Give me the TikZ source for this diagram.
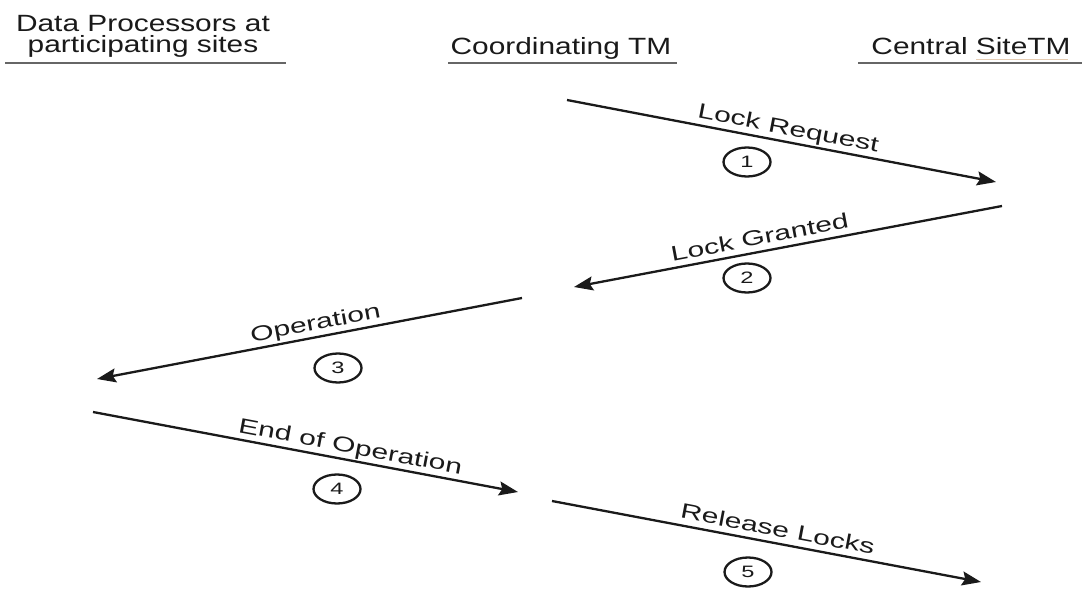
\documentclass[tikz,border=0pt]{standalone}
\usepackage{fontspec}
\setmainfont{Liberation Sans}
\usetikzlibrary{arrows.meta,shapes.geometric}

\definecolor{ink}{HTML}{1A1A1A}
\definecolor{rule}{HTML}{666666}

\tikzset{
  header/.style={inner sep=0pt, anchor=base, text=ink,
    font=\fontsize{23.5}{21}\selectfont},
  headrule/.style={draw=rule, line width=1.8pt},
  msg/.style={draw=ink, line width=2.3pt,
    -{Stealth[length=19pt,width=14pt,inset=3pt]}},
  msglabel/.style={sloped, anchor=base, inner sep=0pt, yshift=7pt, text=ink,
    font=\fontsize{21}{24}\selectfont},
  stepno/.style={ellipse, draw=ink, line width=2.3pt, inner sep=0pt,
    minimum width=47pt, minimum height=29pt, text=ink,
    font=\fontsize{16.5}{18}\selectfont},
}
\newcommand{\wide}[1]{\scalebox{1.27}[1]{#1}}
\newcommand{\widelab}[1]{\scalebox{1.43}[1]{#1}}

\begin{document}
\begin{tikzpicture}[x=1pt,y=1pt]
\useasboundingbox (0,0) rectangle (1082,-591);
\fill[white] (0,0) rectangle (1082,-591);

% column headings
\node[header] (hdp1) at (143,-32) {\wide{Data Processors at}};
\node[header] (hdp2) at (143,-53) {\wide{participating sites}};
\node[header] (hco)  at (561,-55) {\wide{Coordinating TM}};
\node[header] (hce)  at (971,-55) {\wide{Central SiteTM}};

\coordinate (u1a) at (5,-63);   \coordinate (u1b) at (286,-63);
\coordinate (u2a) at (448,-63); \coordinate (u2b) at (677,-63);
\coordinate (u3a) at (858,-63); \coordinate (u3b) at (1082,-63);
\draw[headrule] (u1a) -- (u1b);
\draw[headrule] (u2a) -- (u2b);
\draw[headrule] (u3a) -- (u3b);
\coordinate (sq1) at (976,-59); \coordinate (sq2) at (1068,-59);
\draw[draw=brown!40, line width=0.8pt] (sq1) -- (sq2);

% message end points
\coordinate (a1s) at (567,-100);  \coordinate (a1e) at (996,-182);
\coordinate (a2s) at (1002,-206); \coordinate (a2e) at (574,-287);
\coordinate (a3s) at (522,-298);  \coordinate (a3e) at (97,-379);
\coordinate (a4s) at (93,-412);   \coordinate (a4e) at (518,-492);
\coordinate (a5s) at (552,-501);  \coordinate (a5e) at (981,-582);

% messages
\draw[msg] (a1s) -- node[msglabel, pos=0.51] (l1) {\widelab{Lock Request}} (a1e);
\draw[msg] (a2s) -- node[msglabel, pos=0.56] (l2) {\widelab{Lock Granted}} (a2e);
\draw[msg] (a3s) -- node[msglabel, pos=0.48] (l3) {\widelab{Operation}} (a3e);
\draw[msg] (a4s) -- node[msglabel, pos=0.60] (l4) {\widelab{End of Operation}} (a4e);
\draw[msg] (a5s) -- node[msglabel, pos=0.52] (l5) {\widelab{Release Locks}} (a5e);

% step numbers
\node[stepno] (n1) at (747,-162) {\widelab{1}};
\node[stepno] (n2) at (747,-278) {\widelab{2}};
\node[stepno] (n3) at (338,-368) {\widelab{3}};
\node[stepno] (n4) at (337,-489) {\widelab{4}};
\node[stepno] (n5) at (748,-572) {\widelab{5}};
\end{tikzpicture}
\end{document}
